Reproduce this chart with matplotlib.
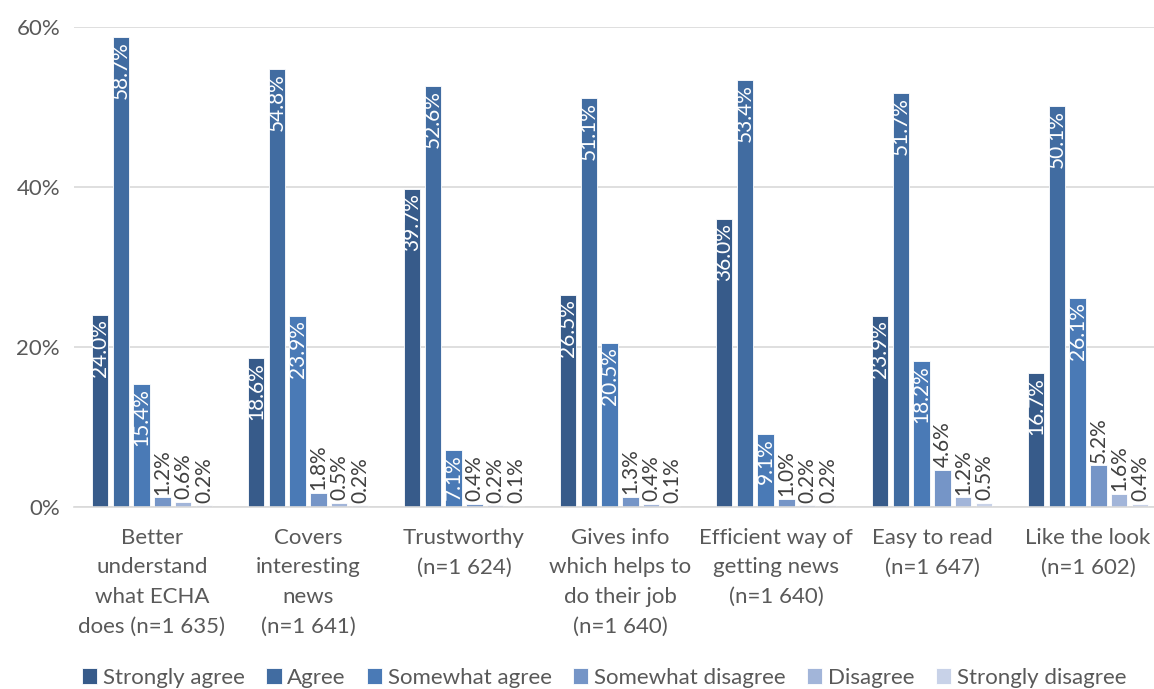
import numpy as np
import matplotlib.pyplot as plt

plt.rcParams['font.family'] = ['Lato', 'DejaVu Sans']

categories = [
    "Better\nunderstand\nwhat ECHA\ndoes (n=1 635)",
    "Covers\ninteresting\nnews\n(n=1 641)",
    "Trustworthy\n(n=1 624)",
    "Gives info\nwhich helps to\ndo their job\n(n=1 640)",
    "Efficient way of\ngetting news\n(n=1 640)",
    "Easy to read\n(n=1 647)",
    "Like the look\n(n=1 602)",
]
series_names = ["Strongly agree", "Agree", "Somewhat agree",
                "Somewhat disagree", "Disagree", "Strongly disagree"]
strongly_agree = [24.0, 18.6, 39.7, 26.5, 36.0, 23.9, 16.7]
agree = [58.7, 54.8, 52.6, 51.1, 53.4, 51.7, 50.1]
somewhat_agree = [15.4, 23.9, 7.1, 20.5, 9.1, 18.2, 26.1]
somewhat_disagree = [1.2, 1.8, 0.4, 1.3, 1.0, 4.6, 5.2]
disagree = [0.6, 0.5, 0.2, 0.4, 0.2, 1.2, 1.6]
strongly_disagree = [0.2, 0.2, 0.1, 0.1, 0.2, 0.5, 0.4]
series = [strongly_agree, agree, somewhat_agree,
          somewhat_disagree, disagree, strongly_disagree]
colors = ["#375b8a", "#416ca1", "#4a7ab6", "#7595c7", "#a2b5d9", "#c8d2e8"]
label_inside = [True, True, True, False, False, False]

W, H = 1154, 689
fig = plt.figure(figsize=(W / 100, H / 100), dpi=100)
ax = fig.add_axes([74 / W, 182 / H, 1092 / W, 480 / H])

x = np.arange(len(categories))
step = 20.8 / 156
width = 16.5 / 156
for i, (name, vals, col) in enumerate(zip(series_names, series, colors)):
    xs = x + (i - 2.5) * step
    ax.bar(xs, np.array(vals) / 100, width=width, color=col,
           edgecolor="white", linewidth=0.6, label=name, zorder=2)
    for xi, v in zip(xs, vals):
        if label_inside[i]:
            ax.annotate(f"{v:.1f}%", (xi, v / 100), xytext=(0, -3),
                        textcoords="offset points", rotation=90,
                        ha="center", va="top", color="white", fontsize=15)
        else:
            ax.annotate(f"{v:.1f}%", (xi, v / 100), xytext=(0, 2),
                        textcoords="offset points", rotation=90,
                        ha="center", va="bottom", color="#404040", fontsize=15)

ax.set_xlim(-0.5, len(categories) - 0.5)
ax.set_ylim(0, 0.6)
ax.set_yticks([0, 0.2, 0.4, 0.6])
ax.set_yticklabels(["0%", "20%", "40%", "60%"])
ax.set_xticks(x)
ax.set_xticklabels(categories, linespacing=1.6, va="top", fontsize=16.5)
ax.tick_params(axis="both", length=0, labelsize=16, colors="#595959")
ax.tick_params(axis="x", pad=15)
ax.tick_params(axis="y", pad=10)
ax.grid(axis="y", color="#d9d9d9", linewidth=1.2, zorder=0)
for s in ["top", "right", "left"]:
    ax.spines[s].set_visible(False)
ax.spines["bottom"].set_color("#d9d9d9")
ax.spines["bottom"].set_linewidth(1.2)

fig.legend(loc="center", bbox_to_anchor=(604 / W, 11 / H), ncol=6,
           frameon=False, fontsize=16, handlelength=0.7, handleheight=0.7,
           handletextpad=0.25, columnspacing=0.95, labelcolor="#595959")

fig.savefig("out.png", dpi=100)
